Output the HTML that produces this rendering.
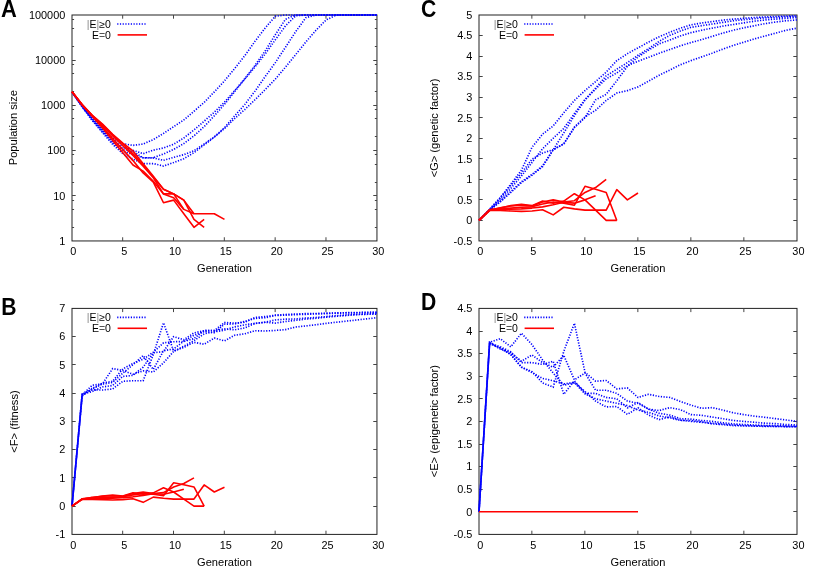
<!DOCTYPE html>
<html><head><meta charset="utf-8"><title>Figure</title>
<style>
html,body{margin:0;padding:0;background:#fff;}
svg{display:block;will-change:transform;}
text{font-family:"Liberation Sans",sans-serif;font-size:11.1px;fill:#000;}
text.pl{font-weight:bold;font-size:23.1px;}
text.tk{font-size:10.9px;}
text.lg{font-size:10.5px;}
</style></head><body>
<svg width="817" height="569" viewBox="0 0 817 569">
<rect width="817" height="569" fill="#fff"/>
<rect x="72.00" y="15.00" width="304.95" height="225.95" fill="none" stroke="#222" stroke-width="1.00"/>
<path d="M122.67 240.95 v-3.7 M122.67 15.00 v3.7 M173.50 240.95 v-3.7 M173.50 15.00 v3.7 M224.32 240.95 v-3.7 M224.32 15.00 v3.7 M275.15 240.95 v-3.7 M275.15 15.00 v3.7 M325.98 240.95 v-3.7 M325.98 15.00 v3.7 M72.00 195.50 h3.7 M376.95 195.50 h-3.7 M72.00 150.50 h3.7 M376.95 150.50 h-3.7 M72.00 105.50 h3.7 M376.95 105.50 h-3.7 M72.00 60.50 h3.7 M376.95 60.50 h-3.7 M72.00 227.50 h2.1 M376.95 227.50 h-2.1 M72.00 209.50 h2.1 M376.95 209.50 h-2.1 M72.00 200.50 h2.1 M376.95 200.50 h-2.1 M72.00 182.50 h2.1 M376.95 182.50 h-2.1 M72.00 164.50 h2.1 M376.95 164.50 h-2.1 M72.00 154.50 h2.1 M376.95 154.50 h-2.1 M72.00 136.50 h2.1 M376.95 136.50 h-2.1 M72.00 118.50 h2.1 M376.95 118.50 h-2.1 M72.00 109.50 h2.1 M376.95 109.50 h-2.1 M72.00 91.50 h2.1 M376.95 91.50 h-2.1 M72.00 73.50 h2.1 M376.95 73.50 h-2.1 M72.00 64.50 h2.1 M376.95 64.50 h-2.1 M72.00 46.50 h2.1 M376.95 46.50 h-2.1 M72.00 28.50 h2.1 M376.95 28.50 h-2.1 M72.00 19.50 h2.1 M376.95 19.50 h-2.1 " stroke="#444" stroke-width="1" fill="none"/>
<text class="tk" x="73.40" y="255.35" text-anchor="middle">0</text>
<text class="tk" x="124.23" y="255.35" text-anchor="middle">5</text>
<text class="tk" x="175.05" y="255.35" text-anchor="middle">10</text>
<text class="tk" x="225.88" y="255.35" text-anchor="middle">15</text>
<text class="tk" x="276.70" y="255.35" text-anchor="middle">20</text>
<text class="tk" x="327.52" y="255.35" text-anchor="middle">25</text>
<text class="tk" x="378.35" y="255.35" text-anchor="middle">30</text>
<text class="tk" x="65.30" y="244.75" text-anchor="end">1</text>
<text class="tk" x="65.30" y="199.56" text-anchor="end">10</text>
<text class="tk" x="65.30" y="154.37" text-anchor="end">100</text>
<text class="tk" x="65.30" y="109.18" text-anchor="end">1000</text>
<text class="tk" x="65.30" y="63.99" text-anchor="end">10000</text>
<text class="tk" x="65.30" y="18.80" text-anchor="end">100000</text>
<text x="224.47" y="272.05" text-anchor="middle">Generation</text>
<path d="M72.00 92.05 L82.16 105.75 L92.33 118.15 L102.50 128.65 L112.66 138.45 L122.83 143.75 L132.99 145.35 L143.16 144.05 L153.32 139.55 L163.48 133.45 L173.65 126.65 L183.81 119.95 L193.98 111.25 L204.15 102.45 L214.31 91.85 L224.47 80.85 L234.64 68.55 L244.80 55.65 L254.97 41.35 L265.13 28.05 L275.30 16.25 L285.47 14.95 L295.63 14.95 L305.79 14.95 L315.96 14.95 L326.12 14.95 L336.29 14.95 L346.45 14.95 L356.62 14.95 L366.78 14.95 L376.95 14.95" stroke="#0000ff" stroke-width="1.65" stroke-dasharray="1.2 1.52" fill="none" stroke-dashoffset="0.54"/>
<path d="M72.00 92.05 L82.16 106.05 L92.33 118.85 L102.50 129.85 L112.66 140.15 L122.83 146.65 L132.99 150.35 L143.16 153.65 L153.32 150.15 L163.48 147.95 L173.65 144.25 L183.81 137.95 L193.98 129.95 L204.15 121.15 L214.31 112.15 L224.47 102.15 L234.64 90.65 L244.80 78.65 L254.97 65.45 L265.13 50.95 L275.30 34.75 L285.47 19.25 L295.63 14.95 L305.79 14.95 L315.96 14.95 L326.12 14.95 L336.29 14.95 L346.45 14.95 L356.62 14.95 L366.78 14.95 L376.95 14.95" stroke="#0000ff" stroke-width="1.65" stroke-dasharray="1.2 1.52" fill="none" stroke-dashoffset="1.09"/>
<path d="M72.00 92.05 L82.16 106.35 L92.33 119.45 L102.50 130.75 L112.66 141.45 L122.83 148.65 L132.99 151.65 L143.16 157.75 L153.32 157.75 L163.48 153.95 L173.65 149.45 L183.81 143.55 L193.98 135.85 L204.15 126.65 L214.31 115.75 L224.47 104.35 L234.64 91.65 L244.80 79.05 L254.97 66.95 L265.13 53.95 L275.30 39.85 L285.47 25.85 L295.63 15.85 L305.79 14.95 L315.96 14.95 L326.12 14.95 L336.29 14.95 L346.45 14.95 L356.62 14.95 L366.78 14.95 L376.95 14.95" stroke="#0000ff" stroke-width="1.65" stroke-dasharray="1.2 1.52" fill="none" stroke-dashoffset="1.63"/>
<path d="M72.00 92.05 L82.16 106.65 L92.33 120.05 L102.50 131.65 L112.66 142.75 L122.83 150.65 L132.99 154.65 L143.16 157.85 L153.32 157.95 L163.48 160.35 L173.65 157.35 L183.81 154.65 L193.98 150.75 L204.15 143.95 L214.31 136.85 L224.47 127.75 L234.64 115.95 L244.80 104.45 L254.97 91.15 L265.13 76.65 L275.30 62.65 L285.47 47.25 L295.63 31.75 L305.79 17.75 L315.96 14.95 L326.12 14.95 L336.29 14.95 L346.45 14.95 L356.62 14.95 L366.78 14.95 L376.95 14.95" stroke="#0000ff" stroke-width="1.65" stroke-dasharray="1.2 1.52" fill="none" stroke-dashoffset="2.18"/>
<path d="M72.00 92.05 L82.16 106.95 L92.33 120.65 L102.50 132.65 L112.66 144.35 L122.83 153.65 L132.99 159.15 L143.16 163.65 L153.32 163.55 L163.48 166.05 L173.65 162.55 L183.81 158.65 L193.98 152.65 L204.15 144.95 L214.31 137.15 L224.47 128.55 L234.64 118.55 L244.80 109.55 L254.97 99.75 L265.13 89.65 L275.30 79.15 L285.47 67.15 L295.63 54.65 L305.79 42.05 L315.96 30.25 L326.12 19.95 L336.29 14.95 L346.45 14.95 L356.62 14.95 L366.78 14.95 L376.95 14.95" stroke="#0000ff" stroke-width="1.65" stroke-dasharray="1.2 1.52" fill="none" stroke-dashoffset="0.00"/>
<path d="M72.00 91.78 L82.16 104.70 L92.33 115.41 L102.50 124.11 L112.66 134.39 L122.83 143.14 L132.99 150.97 L143.16 163.78 L153.32 176.27 L163.48 189.16 L173.65 193.89 L183.81 200.14 L193.98 213.74 L204.15 213.74 L214.31 213.74 L224.47 219.39" stroke="#ff0000" stroke-width="1.6" fill="none" stroke-linejoin="round"/>
<path d="M72.00 91.78 L82.16 104.90 L92.33 116.07 L102.50 126.84 L112.66 138.50 L122.83 149.61 L132.99 160.60 L143.16 172.93 L153.32 182.16 L163.48 202.76 L173.65 200.14 L183.81 213.74 L193.98 227.35 L204.15 219.39" stroke="#ff0000" stroke-width="1.6" fill="none" stroke-linejoin="round"/>
<path d="M72.00 91.78 L82.16 104.80 L92.33 115.74 L102.50 125.43 L112.66 136.01 L122.83 145.73 L132.99 155.45 L143.16 166.24 L153.32 177.78 L163.48 193.89 L173.65 193.89 L183.81 200.14 L193.98 219.39 L204.15 227.35" stroke="#ff0000" stroke-width="1.6" fill="none" stroke-linejoin="round"/>
<path d="M72.00 91.78 L82.16 104.61 L92.33 115.57 L102.50 124.63 L112.66 134.92 L122.83 143.97 L132.99 153.76 L143.16 164.97 L153.32 177.01 L163.48 189.16 L173.65 193.89 L183.81 209.36 L193.98 213.74" stroke="#ff0000" stroke-width="1.6" fill="none" stroke-linejoin="round"/>
<path d="M72.00 91.78 L82.16 104.99 L92.33 116.41 L102.50 128.05 L112.66 140.39 L122.83 152.64 L132.99 164.97 L143.16 171.17 L153.32 181.20 L163.48 193.89 L173.65 197.83 L183.81 209.36" stroke="#ff0000" stroke-width="1.6" fill="none" stroke-linejoin="round"/>
<text class="lg" x="110.90" y="27.80" text-anchor="end"><tspan fill="#8a8a8a">|</tspan>E<tspan fill="#8a8a8a">|</tspan>≥0</text>
<text class="lg" x="110.90" y="38.50" text-anchor="end">E<tspan fill="#555">=</tspan>0</text>
<path d="M117.20 24.00 h28.6" stroke="#0000ff" stroke-width="1.65" stroke-dasharray="1.2 1.52" fill="none"/>
<path d="M117.60 34.90 h29.4" stroke="#ff0000" stroke-width="1.6" fill="none" stroke-linejoin="round"/>
<text transform="translate(17.20 127.60) rotate(-90)" text-anchor="middle">Population size</text>
<text transform="translate(0.9 16.9) scale(0.95 1)" class="pl">A</text>
<rect x="479.00" y="15.00" width="318.00" height="225.95" fill="none" stroke="#222" stroke-width="1.00"/>
<path d="M531.85 240.95 v-3.7 M531.85 15.00 v3.7 M584.85 240.95 v-3.7 M584.85 15.00 v3.7 M637.85 240.95 v-3.7 M637.85 15.00 v3.7 M690.85 240.95 v-3.7 M690.85 15.00 v3.7 M743.85 240.95 v-3.7 M743.85 15.00 v3.7 M479.00 220.50 h3.7 M797.00 220.50 h-3.7 M479.00 199.50 h3.7 M797.00 199.50 h-3.7 M479.00 179.50 h3.7 M797.00 179.50 h-3.7 M479.00 158.50 h3.7 M797.00 158.50 h-3.7 M479.00 138.50 h3.7 M797.00 138.50 h-3.7 M479.00 117.50 h3.7 M797.00 117.50 h-3.7 M479.00 97.50 h3.7 M797.00 97.50 h-3.7 M479.00 76.50 h3.7 M797.00 76.50 h-3.7 M479.00 56.50 h3.7 M797.00 56.50 h-3.7 M479.00 35.50 h3.7 M797.00 35.50 h-3.7 " stroke="#444" stroke-width="1" fill="none"/>
<text class="tk" x="480.40" y="255.35" text-anchor="middle">0</text>
<text class="tk" x="533.40" y="255.35" text-anchor="middle">5</text>
<text class="tk" x="586.40" y="255.35" text-anchor="middle">10</text>
<text class="tk" x="639.40" y="255.35" text-anchor="middle">15</text>
<text class="tk" x="692.40" y="255.35" text-anchor="middle">20</text>
<text class="tk" x="745.40" y="255.35" text-anchor="middle">25</text>
<text class="tk" x="798.40" y="255.35" text-anchor="middle">30</text>
<text class="tk" x="472.30" y="244.75" text-anchor="end">-0.5</text>
<text class="tk" x="472.30" y="224.21" text-anchor="end">0</text>
<text class="tk" x="472.30" y="203.67" text-anchor="end">0.5</text>
<text class="tk" x="472.30" y="183.13" text-anchor="end">1</text>
<text class="tk" x="472.30" y="162.59" text-anchor="end">1.5</text>
<text class="tk" x="472.30" y="142.05" text-anchor="end">2</text>
<text class="tk" x="472.30" y="121.50" text-anchor="end">2.5</text>
<text class="tk" x="472.30" y="100.96" text-anchor="end">3</text>
<text class="tk" x="472.30" y="80.42" text-anchor="end">3.5</text>
<text class="tk" x="472.30" y="59.88" text-anchor="end">4</text>
<text class="tk" x="472.30" y="39.34" text-anchor="end">4.5</text>
<text class="tk" x="472.30" y="18.80" text-anchor="end">5</text>
<text x="638.00" y="272.05" text-anchor="middle">Generation</text>
<path d="M479.00 220.41 L489.60 209.32 L500.20 197.81 L510.80 184.26 L521.40 170.29 L532.00 147.28 L542.60 134.14 L553.20 125.92 L563.80 112.77 L574.40 100.45 L585.00 90.59 L595.60 81.55 L606.20 72.10 L616.80 60.60 L627.40 53.62 L638.00 47.87 L648.60 42.11 L659.20 36.77 L669.80 32.25 L680.40 28.15 L691.00 24.86 L701.60 23.01 L712.20 21.57 L722.80 20.14 L733.40 19.11 L744.00 18.29 L754.60 17.46 L765.20 16.93 L775.80 16.48 L786.40 16.03 L797.00 15.74" stroke="#0000ff" stroke-width="1.65" stroke-dasharray="1.2 1.52" fill="none" stroke-dashoffset="0.54"/>
<path d="M479.00 220.41 L489.60 209.73 L500.20 199.87 L510.80 188.37 L521.40 176.04 L532.00 162.48 L542.60 148.72 L553.20 138.25 L563.80 128.39 L574.40 113.60 L585.00 99.42 L595.60 88.13 L606.20 75.80 L616.80 69.23 L627.40 62.65 L638.00 55.26 L648.60 48.69 L659.20 41.29 L669.80 35.34 L680.40 31.02 L691.00 27.32 L701.60 25.68 L712.20 24.04 L722.80 22.39 L733.40 20.75 L744.00 19.72 L754.60 18.70 L765.20 17.88 L775.80 17.46 L786.40 16.85 L797.00 16.44" stroke="#0000ff" stroke-width="1.65" stroke-dasharray="1.2 1.52" fill="none" stroke-dashoffset="1.09"/>
<path d="M479.00 220.41 L489.60 210.14 L500.20 201.92 L510.80 192.47 L521.40 182.61 L532.00 175.22 L542.60 166.59 L553.20 149.75 L563.80 143.79 L574.40 127.56 L585.00 117.70 L595.60 99.83 L606.20 94.29 L616.80 80.73 L627.40 66.35 L638.00 56.90 L648.60 50.12 L659.20 43.76 L669.80 40.06 L680.40 35.95 L691.00 32.67 L701.60 30.20 L712.20 28.15 L722.80 26.09 L733.40 24.45 L744.00 22.81 L754.60 21.16 L765.20 19.93 L775.80 19.11 L786.40 18.29 L797.00 17.46" stroke="#0000ff" stroke-width="1.65" stroke-dasharray="1.2 1.52" fill="none" stroke-dashoffset="1.63"/>
<path d="M479.00 220.41 L489.60 210.14 L500.20 201.51 L510.80 191.65 L521.40 181.79 L532.00 174.40 L542.60 165.77 L553.20 149.75 L563.80 132.90 L574.40 115.65 L585.00 100.04 L595.60 88.95 L606.20 78.88 L616.80 72.93 L627.40 65.53 L638.00 61.22 L648.60 57.31 L659.20 53.21 L669.80 49.51 L680.40 45.81 L691.00 42.52 L701.60 39.65 L712.20 36.36 L722.80 33.08 L733.40 30.20 L744.00 27.74 L754.60 25.68 L765.20 23.63 L775.80 21.98 L786.40 20.75 L797.00 19.93" stroke="#0000ff" stroke-width="1.65" stroke-dasharray="1.2 1.52" fill="none" stroke-dashoffset="2.18"/>
<path d="M479.00 220.41 L489.60 209.32 L500.20 197.81 L510.80 185.49 L521.40 173.17 L532.00 159.20 L542.60 153.03 L553.20 149.75 L563.80 143.79 L574.40 127.15 L585.00 116.88 L595.60 110.31 L606.20 100.45 L616.80 93.06 L627.40 90.59 L638.00 86.89 L648.60 81.14 L659.20 75.18 L669.80 70.05 L680.40 64.71 L691.00 60.60 L701.60 56.90 L712.20 53.21 L722.80 49.10 L733.40 45.40 L744.00 42.11 L754.60 38.83 L765.20 35.95 L775.80 33.08 L786.40 30.20 L797.00 28.15" stroke="#0000ff" stroke-width="1.65" stroke-dasharray="1.2 1.52" fill="none" stroke-dashoffset="0.00"/>
<path d="M479.00 220.41 L489.60 210.14 L500.20 210.55 L510.80 210.96 L521.40 211.37 L532.00 210.96 L542.60 209.73 L553.20 214.86 L563.80 207.26 L574.40 208.91 L585.00 210.14 L595.60 210.14 L606.20 210.14 L616.80 189.60 L627.40 199.87 L638.00 193.01" stroke="#ff0000" stroke-width="1.6" fill="none" stroke-linejoin="round"/>
<path d="M479.00 220.41 L489.60 209.73 L500.20 208.08 L510.80 205.62 L521.40 204.39 L532.00 205.62 L542.60 201.10 L553.20 203.15 L563.80 201.10 L574.40 193.71 L585.00 199.87 L595.60 210.14 L606.20 220.41 L616.80 220.41" stroke="#ff0000" stroke-width="1.6" fill="none" stroke-linejoin="round"/>
<path d="M479.00 220.41 L489.60 210.14 L500.20 209.32 L510.80 208.08 L521.40 207.26 L532.00 206.85 L542.60 203.98 L553.20 201.92 L563.80 203.15 L574.40 205.21 L585.00 186.31 L595.60 189.19 L606.20 192.47 L616.80 220.41" stroke="#ff0000" stroke-width="1.6" fill="none" stroke-linejoin="round"/>
<path d="M479.00 220.41 L489.60 210.55 L500.20 207.67 L510.80 206.03 L521.40 205.21 L532.00 206.03 L542.60 201.92 L553.20 199.87 L563.80 201.92 L574.40 200.69 L585.00 192.47 L595.60 187.54 L606.20 179.33" stroke="#ff0000" stroke-width="1.6" fill="none" stroke-linejoin="round"/>
<path d="M479.00 220.41 L489.60 209.73 L500.20 208.91 L510.80 209.32 L521.40 208.91 L532.00 208.08 L542.60 206.85 L553.20 204.80 L563.80 202.33 L574.40 203.15 L585.00 199.87 L595.60 195.76" stroke="#ff0000" stroke-width="1.6" fill="none" stroke-linejoin="round"/>
<text class="lg" x="517.90" y="27.80" text-anchor="end"><tspan fill="#8a8a8a">|</tspan>E<tspan fill="#8a8a8a">|</tspan>≥0</text>
<text class="lg" x="517.90" y="38.50" text-anchor="end">E<tspan fill="#555">=</tspan>0</text>
<path d="M524.20 24.00 h28.6" stroke="#0000ff" stroke-width="1.65" stroke-dasharray="1.2 1.52" fill="none"/>
<path d="M524.60 34.90 h29.4" stroke="#ff0000" stroke-width="1.6" fill="none" stroke-linejoin="round"/>
<text transform="translate(438.30 128.00) rotate(-90)" text-anchor="middle">&lt;G&gt; (genetic factor)</text>
<text transform="translate(421.0 16.8) scale(0.915 1)" class="pl">C</text>
<rect x="72.00" y="308.40" width="304.95" height="226.00" fill="none" stroke="#222" stroke-width="1.00"/>
<path d="M122.67 534.40 v-3.7 M122.67 308.40 v3.7 M173.50 534.40 v-3.7 M173.50 308.40 v3.7 M224.32 534.40 v-3.7 M224.32 308.40 v3.7 M275.15 534.40 v-3.7 M275.15 308.40 v3.7 M325.98 534.40 v-3.7 M325.98 308.40 v3.7 M72.00 506.50 h3.7 M376.95 506.50 h-3.7 M72.00 477.50 h3.7 M376.95 477.50 h-3.7 M72.00 449.50 h3.7 M376.95 449.50 h-3.7 M72.00 421.50 h3.7 M376.95 421.50 h-3.7 M72.00 393.50 h3.7 M376.95 393.50 h-3.7 M72.00 364.50 h3.7 M376.95 364.50 h-3.7 M72.00 336.50 h3.7 M376.95 336.50 h-3.7 " stroke="#444" stroke-width="1" fill="none"/>
<text class="tk" x="73.40" y="548.80" text-anchor="middle">0</text>
<text class="tk" x="124.23" y="548.80" text-anchor="middle">5</text>
<text class="tk" x="175.05" y="548.80" text-anchor="middle">10</text>
<text class="tk" x="225.88" y="548.80" text-anchor="middle">15</text>
<text class="tk" x="276.70" y="548.80" text-anchor="middle">20</text>
<text class="tk" x="327.52" y="548.80" text-anchor="middle">25</text>
<text class="tk" x="378.35" y="548.80" text-anchor="middle">30</text>
<text class="tk" x="65.30" y="538.20" text-anchor="end">-1</text>
<text class="tk" x="65.30" y="509.95" text-anchor="end">0</text>
<text class="tk" x="65.30" y="481.70" text-anchor="end">1</text>
<text class="tk" x="65.30" y="453.45" text-anchor="end">2</text>
<text class="tk" x="65.30" y="425.20" text-anchor="end">3</text>
<text class="tk" x="65.30" y="396.95" text-anchor="end">4</text>
<text class="tk" x="65.30" y="368.70" text-anchor="end">5</text>
<text class="tk" x="65.30" y="340.45" text-anchor="end">6</text>
<text class="tk" x="65.30" y="312.20" text-anchor="end">7</text>
<text x="224.47" y="565.50" text-anchor="middle">Generation</text>
<path d="M72.00 506.15 L82.16 395.97 L92.33 388.35 L102.50 382.98 L112.66 381.28 L122.83 368.85 L132.99 363.49 L143.16 359.25 L153.32 352.19 L163.48 342.87 L173.65 341.73 L183.81 341.45 L193.98 338.63 L204.15 330.43 L214.31 330.58 L224.47 322.52 L234.64 323.09 L244.80 322.24 L254.97 317.44 L265.13 316.59 L275.30 315.18 L285.47 314.47 L295.63 314.05 L305.79 313.63 L315.96 313.48 L326.12 313.20 L336.29 312.92 L346.45 312.69 L356.62 312.52 L366.78 312.36 L376.95 312.30" stroke="#0000ff" stroke-width="1.65" stroke-dasharray="1.2 1.52" fill="none" stroke-dashoffset="0.54"/>
<path d="M72.00 506.15 L82.16 395.41 L92.33 388.91 L102.50 384.11 L112.66 382.41 L122.83 373.09 L132.99 364.76 L143.16 355.58 L153.32 369.42 L163.48 350.77 L173.65 348.94 L183.81 341.17 L193.98 335.24 L204.15 331.56 L214.31 332.69 L224.47 324.22 L234.64 323.94 L244.80 321.39 L254.97 318.43 L265.13 317.72 L275.30 315.46 L285.47 315.18 L295.63 314.62 L305.79 314.33 L315.96 313.91 L326.12 313.63 L336.29 313.20 L346.45 312.92 L356.62 312.78 L366.78 312.50 L376.95 312.36" stroke="#0000ff" stroke-width="1.65" stroke-dasharray="1.2 1.52" fill="none" stroke-dashoffset="1.09"/>
<path d="M72.00 506.15 L82.16 394.85 L92.33 385.24 L102.50 383.83 L112.66 368.57 L122.83 370.55 L132.99 374.22 L143.16 370.83 L153.32 371.96 L163.48 362.92 L173.65 351.34 L183.81 346.25 L193.98 340.60 L204.15 333.82 L214.31 331.85 L224.47 330.15 L234.64 326.90 L244.80 324.78 L254.97 323.37 L265.13 322.24 L275.30 319.98 L285.47 319.13 L295.63 318.99 L305.79 318.00 L315.96 317.52 L326.12 316.59 L336.29 315.60 L346.45 314.90 L356.62 314.39 L366.78 313.91 L376.95 313.34" stroke="#0000ff" stroke-width="1.65" stroke-dasharray="1.2 1.52" fill="none" stroke-dashoffset="1.63"/>
<path d="M72.00 506.15 L82.16 394.28 L92.33 391.45 L102.50 386.93 L112.66 385.52 L122.83 376.48 L132.99 375.35 L143.16 367.16 L153.32 352.75 L163.48 351.62 L173.65 336.65 L183.81 339.76 L193.98 332.84 L204.15 330.72 L214.31 330.43 L224.47 328.88 L234.64 329.87 L244.80 327.89 L254.97 323.51 L265.13 322.24 L275.30 323.09 L285.47 321.54 L295.63 320.38 L305.79 319.13 L315.96 318.29 L326.12 317.16 L336.29 316.31 L346.45 315.46 L356.62 314.62 L366.78 314.33 L376.95 314.05" stroke="#0000ff" stroke-width="1.65" stroke-dasharray="1.2 1.52" fill="none" stroke-dashoffset="2.18"/>
<path d="M72.00 506.15 L82.16 394.00 L92.33 389.76 L102.50 390.04 L112.66 388.91 L122.83 381.28 L132.99 380.72 L143.16 380.72 L153.32 354.45 L163.48 322.81 L173.65 351.06 L183.81 347.38 L193.98 342.30 L204.15 344.28 L214.31 338.06 L224.47 340.89 L234.64 335.24 L244.80 333.82 L254.97 330.72 L265.13 331.00 L275.30 330.43 L285.47 329.59 L295.63 327.04 L305.79 325.91 L315.96 324.78 L326.12 323.37 L336.29 322.24 L346.45 321.11 L356.62 319.98 L366.78 318.85 L376.95 317.72" stroke="#0000ff" stroke-width="1.65" stroke-dasharray="1.2 1.52" fill="none" stroke-dashoffset="0.00"/>
<path d="M72.00 506.15 L82.16 499.09 L92.33 499.37 L102.50 499.65 L112.66 499.94 L122.83 499.65 L132.99 498.80 L143.16 502.34 L153.32 497.11 L163.48 498.24 L173.65 499.09 L183.81 499.09 L193.98 499.09 L204.15 484.96 L214.31 492.02 L224.47 487.31" stroke="#ff0000" stroke-width="1.6" fill="none" stroke-linejoin="round"/>
<path d="M72.00 506.15 L82.16 498.80 L92.33 497.67 L102.50 495.98 L112.66 495.13 L122.83 495.98 L132.99 492.87 L143.16 494.28 L153.32 492.87 L163.48 487.79 L173.65 492.02 L183.81 499.09 L193.98 506.15 L204.15 506.15" stroke="#ff0000" stroke-width="1.6" fill="none" stroke-linejoin="round"/>
<path d="M72.00 506.15 L82.16 499.09 L92.33 498.52 L102.50 497.67 L112.66 497.11 L122.83 496.83 L132.99 494.85 L143.16 493.44 L153.32 494.28 L163.48 495.70 L173.65 482.70 L183.81 484.68 L193.98 486.94 L204.15 506.15" stroke="#ff0000" stroke-width="1.6" fill="none" stroke-linejoin="round"/>
<path d="M72.00 506.15 L82.16 499.37 L92.33 497.39 L102.50 496.26 L112.66 495.70 L122.83 496.26 L132.99 493.44 L143.16 492.02 L153.32 493.44 L163.48 492.59 L173.65 486.94 L183.81 483.55 L193.98 477.90" stroke="#ff0000" stroke-width="1.6" fill="none" stroke-linejoin="round"/>
<path d="M72.00 506.15 L82.16 498.80 L92.33 498.24 L102.50 498.52 L112.66 498.24 L122.83 497.67 L132.99 496.83 L143.16 495.41 L153.32 493.72 L163.48 494.28 L173.65 492.02 L183.81 489.20" stroke="#ff0000" stroke-width="1.6" fill="none" stroke-linejoin="round"/>
<text class="lg" x="110.90" y="321.20" text-anchor="end"><tspan fill="#8a8a8a">|</tspan>E<tspan fill="#8a8a8a">|</tspan>≥0</text>
<text class="lg" x="110.90" y="331.90" text-anchor="end">E<tspan fill="#555">=</tspan>0</text>
<path d="M117.20 317.40 h28.6" stroke="#0000ff" stroke-width="1.65" stroke-dasharray="1.2 1.52" fill="none"/>
<path d="M117.60 328.30 h29.4" stroke="#ff0000" stroke-width="1.6" fill="none" stroke-linejoin="round"/>
<text transform="translate(18.30 421.50) rotate(-90)" text-anchor="middle">&lt;F&gt; (fitness)</text>
<text transform="translate(1.3 314.9) scale(0.915 1)" class="pl">B</text>
<rect x="479.00" y="308.40" width="318.00" height="226.00" fill="none" stroke="#222" stroke-width="1.00"/>
<path d="M531.85 534.40 v-3.7 M531.85 308.40 v3.7 M584.85 534.40 v-3.7 M584.85 308.40 v3.7 M637.85 534.40 v-3.7 M637.85 308.40 v3.7 M690.85 534.40 v-3.7 M690.85 308.40 v3.7 M743.85 534.40 v-3.7 M743.85 308.40 v3.7 M479.00 511.50 h3.7 M797.00 511.50 h-3.7 M479.00 489.50 h3.7 M797.00 489.50 h-3.7 M479.00 466.50 h3.7 M797.00 466.50 h-3.7 M479.00 444.50 h3.7 M797.00 444.50 h-3.7 M479.00 421.50 h3.7 M797.00 421.50 h-3.7 M479.00 398.50 h3.7 M797.00 398.50 h-3.7 M479.00 376.50 h3.7 M797.00 376.50 h-3.7 M479.00 353.50 h3.7 M797.00 353.50 h-3.7 M479.00 331.50 h3.7 M797.00 331.50 h-3.7 " stroke="#444" stroke-width="1" fill="none"/>
<text class="tk" x="480.40" y="548.80" text-anchor="middle">0</text>
<text class="tk" x="533.40" y="548.80" text-anchor="middle">5</text>
<text class="tk" x="586.40" y="548.80" text-anchor="middle">10</text>
<text class="tk" x="639.40" y="548.80" text-anchor="middle">15</text>
<text class="tk" x="692.40" y="548.80" text-anchor="middle">20</text>
<text class="tk" x="745.40" y="548.80" text-anchor="middle">25</text>
<text class="tk" x="798.40" y="548.80" text-anchor="middle">30</text>
<text class="tk" x="472.30" y="538.20" text-anchor="end">-0.5</text>
<text class="tk" x="472.30" y="515.60" text-anchor="end">0</text>
<text class="tk" x="472.30" y="493.00" text-anchor="end">0.5</text>
<text class="tk" x="472.30" y="470.40" text-anchor="end">1</text>
<text class="tk" x="472.30" y="447.80" text-anchor="end">1.5</text>
<text class="tk" x="472.30" y="425.20" text-anchor="end">2</text>
<text class="tk" x="472.30" y="402.60" text-anchor="end">2.5</text>
<text class="tk" x="472.30" y="380.00" text-anchor="end">3</text>
<text class="tk" x="472.30" y="357.40" text-anchor="end">3.5</text>
<text class="tk" x="472.30" y="334.80" text-anchor="end">4</text>
<text class="tk" x="472.30" y="312.20" text-anchor="end">4.5</text>
<text x="638.00" y="565.50" text-anchor="middle">Generation</text>
<path d="M479.00 511.80 L489.60 343.66 L500.20 347.72 L510.80 354.50 L521.40 367.16 L532.00 371.68 L542.60 382.98 L553.20 387.05 L563.80 351.34 L574.40 323.32 L585.00 372.36 L595.60 381.17 L606.20 380.49 L616.80 388.86 L627.40 387.95 L638.00 397.44 L648.60 394.28 L659.20 396.54 L669.80 397.44 L680.40 401.51 L691.00 405.13 L701.60 408.29 L712.20 407.61 L722.80 410.10 L733.40 412.81 L744.00 414.62 L754.60 416.20 L765.20 417.33 L775.80 418.69 L786.40 420.04 L797.00 421.40" stroke="#0000ff" stroke-width="1.65" stroke-dasharray="1.2 1.52" fill="none" stroke-dashoffset="0.54"/>
<path d="M479.00 511.80 L489.60 342.75 L500.20 349.08 L510.80 352.70 L521.40 361.28 L532.00 354.96 L542.60 362.64 L553.20 367.16 L563.80 355.41 L574.40 379.82 L585.00 373.04 L595.60 390.21 L606.20 390.21 L616.80 393.38 L627.40 401.06 L638.00 403.32 L648.60 409.20 L659.20 410.55 L669.80 407.61 L680.40 409.65 L691.00 414.62 L701.60 415.30 L712.20 417.06 L722.80 418.69 L733.40 420.50 L744.00 421.40 L754.60 422.30 L765.20 423.21 L775.80 423.66 L786.40 424.56 L797.00 425.02" stroke="#0000ff" stroke-width="1.65" stroke-dasharray="1.2 1.52" fill="none" stroke-dashoffset="1.09"/>
<path d="M479.00 511.80 L489.60 342.30 L500.20 348.18 L510.80 354.50 L521.40 367.16 L532.00 372.58 L542.60 378.46 L553.20 380.72 L563.80 383.88 L574.40 382.53 L585.00 391.57 L595.60 401.06 L606.20 406.94 L616.80 406.48 L627.40 414.39 L638.00 407.84 L648.60 415.07 L659.20 419.59 L669.80 416.88 L680.40 420.04 L691.00 421.40 L701.60 422.30 L712.20 423.21 L722.80 424.11 L733.40 425.02 L744.00 425.47 L754.60 425.92 L765.20 426.15 L775.80 426.37 L786.40 426.60 L797.00 426.82" stroke="#0000ff" stroke-width="1.65" stroke-dasharray="1.2 1.52" fill="none" stroke-dashoffset="1.63"/>
<path d="M479.00 511.80 L489.60 343.20 L500.20 346.82 L510.80 351.79 L521.40 362.64 L532.00 362.64 L542.60 364.45 L553.20 361.28 L563.80 394.28 L574.40 380.72 L585.00 393.38 L595.60 393.38 L606.20 397.44 L616.80 398.80 L627.40 407.84 L638.00 402.42 L648.60 409.20 L659.20 413.26 L669.80 415.07 L680.40 418.69 L691.00 419.14 L701.60 420.50 L712.20 421.40 L722.80 422.76 L733.40 423.89 L744.00 424.56 L754.60 425.02 L765.20 425.47 L775.80 425.69 L786.40 425.92 L797.00 426.15" stroke="#0000ff" stroke-width="1.65" stroke-dasharray="1.2 1.52" fill="none" stroke-dashoffset="2.18"/>
<path d="M479.00 511.80 L489.60 342.30 L500.20 338.68 L510.80 346.82 L521.40 333.26 L532.00 344.56 L542.60 359.93 L553.20 373.04 L563.80 385.24 L574.40 382.53 L585.00 393.83 L595.60 398.80 L606.20 401.06 L616.80 403.32 L627.40 405.58 L638.00 410.10 L648.60 412.36 L659.20 415.98 L669.80 417.78 L680.40 420.50 L691.00 420.50 L701.60 421.85 L712.20 423.89 L722.80 424.56 L733.40 425.60 L744.00 425.92 L754.60 426.15 L765.20 426.37 L775.80 426.46 L786.40 426.60 L797.00 426.60" stroke="#0000ff" stroke-width="1.65" stroke-dasharray="1.2 1.52" fill="none" stroke-dashoffset="0.00"/>
<path d="M479.00 511.80 H638.00" stroke="#ff0000" stroke-width="1.6" fill="none" stroke-linejoin="round"/>
<text class="lg" x="517.90" y="321.20" text-anchor="end"><tspan fill="#8a8a8a">|</tspan>E<tspan fill="#8a8a8a">|</tspan>≥0</text>
<text class="lg" x="517.90" y="331.90" text-anchor="end">E<tspan fill="#555">=</tspan>0</text>
<path d="M524.20 317.40 h28.6" stroke="#0000ff" stroke-width="1.65" stroke-dasharray="1.2 1.52" fill="none"/>
<path d="M524.60 328.30 h29.4" stroke="#ff0000" stroke-width="1.6" fill="none" stroke-linejoin="round"/>
<text transform="translate(438.30 421.20) rotate(-90)" text-anchor="middle">&lt;E&gt; (epigenetic factor)</text>
<text transform="translate(421.1 309.7) scale(0.915 1)" class="pl">D</text>
</svg>
</body></html>
